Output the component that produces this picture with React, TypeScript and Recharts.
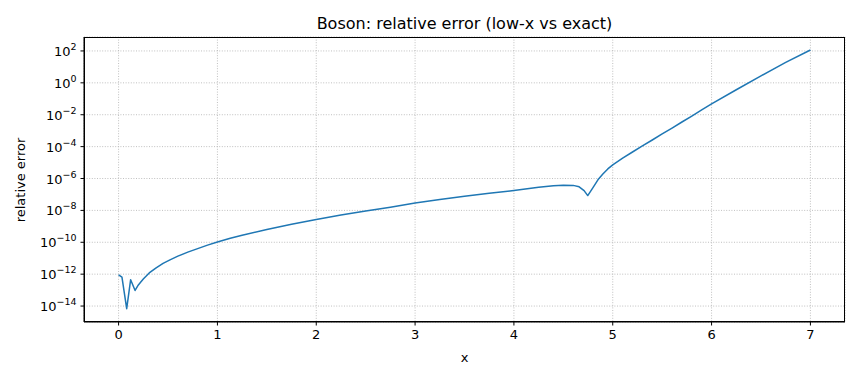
import { CartesianGrid, Line, LineChart, XAxis, YAxis } from "recharts";

// x positions and relative error
const xs = [
  0, 0.034, 0.082, 0.122, 0.167, 0.2, 0.25, 0.31, 0.38, 0.45, 0.52, 0.6, 0.7,
  0.8, 0.9, 1.0, 1.13, 1.25, 1.5, 1.75, 2.0, 2.25, 2.5, 2.75, 3.0, 3.25, 3.5,
  3.75, 4.0, 4.25, 4.4, 4.5, 4.6, 4.66, 4.71, 4.747, 4.8, 4.85, 4.9, 4.95, 5.0,
  5.1, 5.2, 5.3, 5.4, 5.5, 5.6, 5.7, 5.8, 5.9, 6.0, 6.25, 6.5, 6.75, 7.0,
];
const relErr = [
  9.1e-13, 6.5e-13, 6.8e-15, 4.5e-13, 9.5e-14, 2.1e-13, 5.0e-13, 1.2e-12,
  2.5e-12, 4.8e-12, 7.9e-12, 1.35e-11, 2.4e-11, 4.0e-11, 6.6e-11, 1.05e-10,
  1.78e-10, 2.75e-10, 6.3e-10, 1.35e-9, 2.7e-9, 5.1e-9, 9.3e-9, 1.6e-8,
  2.95e-8, 4.8e-8, 7.6e-8, 1.17e-7, 1.78e-7, 2.8e-7, 3.5e-7, 3.8e-7, 3.7e-7,
  3.0e-7, 1.74e-7, 8.5e-8, 2.7e-7, 8.3e-7, 1.9e-6, 4.0e-6, 7.2e-6, 1.9e-5,
  4.6e-5, 1.1e-4, 2.6e-4, 6.2e-4, 1.45e-3, 3.5e-3, 8.3e-3, 2.0e-2, 4.8e-2,
  0.37, 2.75, 19, 115,
];
const xTicks = [0, 1, 2, 3, 4, 5, 6, 7];
const yTicks = [1e-14, 1e-12, 1e-10, 1e-8, 1e-6, 1e-4, 1e-2, 1, 1e2];

const data = xs.map((x, i) => ({ x, err: relErr[i] }));

const FONT = "DejaVu Sans, sans-serif";

function YTick({ x, y, payload }: any) {
  const e = Math.round(Math.log10(payload.value));
  const s = e < 0 ? "\u2212" + -e : String(e);
  return (
    <text x={x} y={y} dy={5} textAnchor="end" fill="#000" fontSize={13} fontFamily={FONT}>
      <tspan>10</tspan>
      <tspan dy={-6} fontSize={9.5}>
        {s}
      </tspan>
    </text>
  );
}

export default function App() {
  return (
    <div style={{ position: "absolute", left: 0, top: 0, width: 860, height: 380, background: "#fff" }}>
      <LineChart
        width={860}
        height={380}
        data={data}
        margin={{ top: 37, right: 15, bottom: 13, left: 0 }}
      >
        <CartesianGrid stroke="#b0b0b0" strokeDasharray="1 1.6" strokeWidth={0.8} />
        <XAxis
          type="number"
          dataKey="x"
          domain={[-0.35, 7.35]}
          allowDataOverflow
          ticks={xTicks}
          height={45}
          stroke="#000"
          tickSize={3.5}
          tickMargin={4}
          tick={{ fill: "#000", fontSize: 13, fontFamily: FONT }}
        />
        <YAxis
          scale="log"
          domain={[1e-15, 750]}
          allowDataOverflow
          ticks={yTicks}
          width={84}
          stroke="#000"
          tickSize={3.5}
          tickMargin={4}
          tick={<YTick />}
        />
        <Line
          type="linear"
          dataKey="err"
          stroke="#1f77b4"
          strokeWidth={1.5}
          strokeLinejoin="round"
          dot={false}
          isAnimationActive={false}
        />
      </LineChart>
      <div
        style={{
          position: "absolute",
          left: 84,
          top: 37,
          width: 761,
          height: 285,
          boxSizing: "border-box",
          border: "1px solid #000",
          pointerEvents: "none",
        }}
      />
      <svg width={860} height={380} style={{ position: "absolute", left: 0, top: 0, pointerEvents: "none" }}>
        <text x={464.5} y={29} textAnchor="middle" fontSize={16} fontFamily={FONT} fill="#000">
          Boson: relative error (low-x vs exact)
        </text>
        <text x={464.5} y={362} textAnchor="middle" fontSize={13} fontFamily={FONT} fill="#000">
          x
        </text>
        <text
          x={0}
          y={0}
          transform="translate(25,180) rotate(-90)"
          textAnchor="middle"
          fontSize={13}
          fontFamily={FONT}
          fill="#000"
        >
          relative error
        </text>
      </svg>
    </div>
  );
}
